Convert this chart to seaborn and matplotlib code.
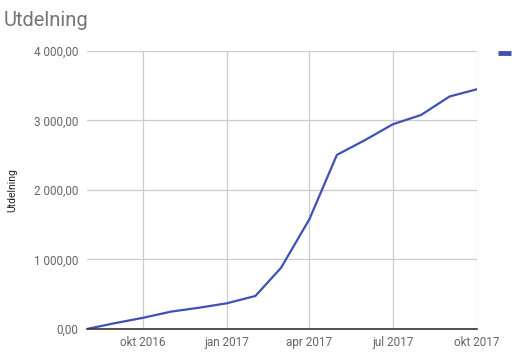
import matplotlib
matplotlib.use("Agg")
import matplotlib.pyplot as plt
import matplotlib.dates as mdates
from matplotlib.ticker import FuncFormatter, FixedLocator
from matplotlib.lines import Line2D
import seaborn as sns
import pandas as pd

# Data
months = ["2016-08-01", "2016-09-01", "2016-10-01", "2016-11-01", "2016-12-01",
          "2017-01-01", "2017-02-01", "2017-03-01", "2017-04-01", "2017-05-01",
          "2017-06-01", "2017-07-01", "2017-08-01", "2017-09-01", "2017-10-01"]
utdelning = [0, 85, 160, 250, 305, 370, 475, 880, 1580, 2505,
             2720, 2945, 3080, 3345, 3450]
x_tick_dates = ["2016-10-01", "2017-01-01", "2017-04-01", "2017-07-01", "2017-10-01"]
x_tick_labels = ["okt 2016", "jan 2017", "apr 2017", "jul 2017", "okt 2017"]
y_ticks = [0, 1000, 2000, 3000, 4000]

df = pd.DataFrame({"Datum": pd.to_datetime(months), "Utdelning": utdelning})

sns.set_theme(style="white")
plt.rcParams["font.family"] = ["Roboto", "DejaVu Sans"]

fig = plt.figure(figsize=(5.14, 3.63), dpi=100)
ax = fig.add_axes([0.169, 0.0937, 0.759, 0.7658])

line_color = "#3f51b5"
sns.lineplot(data=df, x="Datum", y="Utdelning", ax=ax, color=line_color, linewidth=1.6)

ax.set_xlim(pd.Timestamp("2016-08-01"), pd.Timestamp("2017-10-01"))
ax.set_ylim(0, 4000)

xt = [mdates.date2num(pd.Timestamp(d)) for d in x_tick_dates]
ax.xaxis.set_major_locator(FixedLocator(xt))
ax.set_xticklabels(x_tick_labels)
ax.set_yticks(y_ticks)

def fmt(v, pos):
    s = f"{v:,.2f}"
    return s.replace(",", " ").replace(".", ",")
ax.yaxis.set_major_formatter(FuncFormatter(fmt))

ax.grid(True, color="#cccccc", linewidth=0.9)
ax.set_axisbelow(True)
for s in ["top", "right", "left"]:
    ax.spines[s].set_visible(False)
ax.spines["bottom"].set_color("#333333")
ax.spines["bottom"].set_linewidth(1.2)

ax.tick_params(axis="both", length=0, labelsize=8.5, colors="#666666")
ax.tick_params(axis="x", pad=5)
ax.tick_params(axis="y", pad=6)

ax.set_xlabel("")
ax.set_ylabel("Utdelning", fontsize=7.5, color="#222222", labelpad=12)

fig.text(0.008, 0.97, "Utdelning", fontsize=14.5, color="#757575", ha="left", va="top")

handle = Line2D([], [], color=line_color, linewidth=3.5, solid_capstyle="butt")
leg = ax.legend([handle], [""], loc="center left", bbox_to_anchor=(0.968, 0.851),
                bbox_transform=fig.transFigure, frameon=False, handlelength=0.85,
                handletextpad=0, borderaxespad=0, borderpad=0)

fig.savefig("out.png", dpi=100)
